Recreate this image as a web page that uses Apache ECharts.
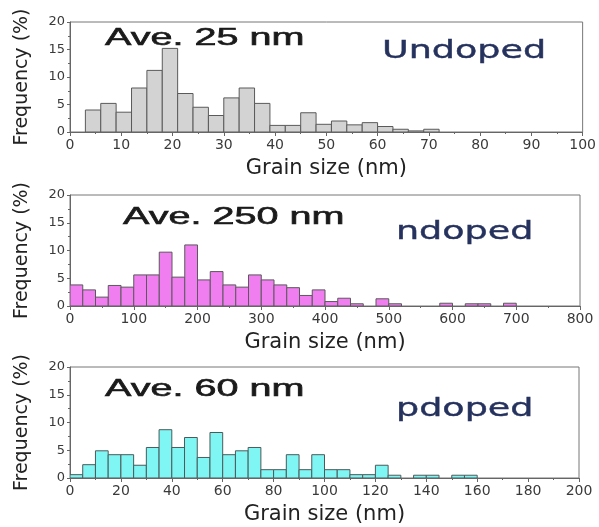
<!DOCTYPE html>
<html>
<head>
<meta charset="utf-8">
<script src="https://cdn.jsdelivr.net/npm/echarts@6/dist/echarts.min.js"></script>
<style>
html,body{margin:0;padding:0;background:#fff;}
#c{width:599px;height:527px;}
</style>
</head>
<body>
<div id="c"></div>
<script>
// ---- Data ----
// Panel 1: Undoped, bins of 3 nm
const undopedBinStart = [3,6,9,12,15,18,21,24,27,30,33,36,39,42,45,48,51,54,57,60,63,66,69];
const undopedBinWidth = 3;
const undopedFreq = [4.0,5.2,3.6,8.0,11.2,15.2,7.0,4.5,3.0,6.2,8.0,5.2,1.2,1.2,3.5,1.4,2.0,1.3,1.7,1.0,0.5,0.2,0.5];

// Panel 2: n-doped, bins of 20 nm
const ndopedBinStart = [0,20,40,60,80,100,120,140,160,180,200,220,240,260,280,300,320,340,360,380,400,420,440,480,500,580,620,640,680];
const ndopedBinWidth = 20;
const ndopedFreq = [3.8,2.9,1.6,3.7,3.4,5.6,5.6,9.7,5.2,11.0,4.7,6.2,3.8,3.4,5.6,4.7,3.8,3.3,1.9,2.9,0.8,1.4,0.4,1.3,0.4,0.5,0.4,0.4,0.5];

// Panel 3: p-doped, bins of 5 nm
const pdopedBinStart = [0,5,10,15,20,25,30,35,40,45,50,55,60,65,70,75,80,85,90,95,100,105,110,115,120,125,135,140,150,155];
const pdopedBinWidth = 5;
const pdopedFreq = [0.6,2.4,4.9,4.2,4.2,2.3,5.5,8.7,5.5,7.3,3.7,8.2,4.2,4.9,5.5,1.5,1.5,4.2,1.5,4.2,1.5,1.5,0.6,0.6,2.3,0.5,0.5,0.5,0.5,0.5];

// Axis settings
const xMax = [100, 800, 200];
const xInterval = [10, 100, 20];
const yTicks = [0, 5, 10, 15, 20];
const avgLabels = ['Ave. 25 nm', 'Ave. 250 nm', 'Ave. 60 nm'];
const typeLabels = ['Undoped', 'ndoped', 'pdoped'];
const xName = 'Grain size (nm)';
const yName = 'Frequency (%)';

// ---- Chart ----
const chart = echarts.init(document.getElementById('c'));
const grids = [
  {left:70, top:22, width:513, height:110},
  {left:70, top:195, width:510, height:111},
  {left:70, top:367, width:509, height:111}
];
const fills = ['#d3d3d3', '#f07ef0', '#80f6f4'];
const strokes = ['#5a5a5a', '#5a5a5a', '#4a5a5a'];
const sets = [
  [undopedBinStart, undopedBinWidth, undopedFreq],
  [ndopedBinStart, ndopedBinWidth, ndopedFreq],
  [pdopedBinStart, pdopedBinWidth, pdopedFreq]
];
const axisFont = 'DejaVu Sans';

const xAxes = [], yAxes = [], series = [];
for (let i = 0; i < 3; i++) {
  xAxes.push({
    type:'value', gridIndex:i, min:0, max:xMax[i], interval:xInterval[i],
    name:xName, nameLocation:'middle', nameGap:26,
    nameTextStyle:{fontFamily:axisFont, fontSize:21, color:'#222'},
    axisLine:{show:true, lineStyle:{color:'#666', width:1}},
    axisTick:{show:true, inside:false, length:4, lineStyle:{color:'#666'}},
    minorTick:{show:true, splitNumber:2, length:2, lineStyle:{color:'#666'}},
    axisLabel:{fontFamily:axisFont, fontSize:14, color:'#3a3a3a', margin:6},
    splitLine:{show:false}
  });
  yAxes.push({
    type:'value', gridIndex:i, min:yTicks[0], max:yTicks[yTicks.length-1], interval:yTicks[1]-yTicks[0],
    name:yName, nameLocation:'middle', nameGap:38, nameRotate:90,
    nameTextStyle:{fontFamily:axisFont, fontSize:19, color:'#222'},
    axisLine:{show:true, lineStyle:{color:'#666', width:1}},
    axisTick:{show:true, inside:false, length:3, lineStyle:{color:'#666'}},
    minorTick:{show:true, splitNumber:2, length:2, lineStyle:{color:'#666'}},
    axisLabel:{fontFamily:axisFont, fontSize:13, color:'#3a3a3a', margin:5},
    splitLine:{show:false}
  });
  const [starts, w, freq] = sets[i];
  const data = starts.map((s, k) => [s, s + w, freq[k]]);
  const fill = fills[i], stroke = strokes[i];
  series.push({
    type:'custom', xAxisIndex:i, yAxisIndex:i,
    encode:{x:[0,1], y:2},
    data:data,
    clip:true,
    renderItem:function(params, api){
      const p0 = api.coord([api.value(0), api.value(2)]);
      const p1 = api.coord([api.value(1), 0]);
      return {type:'rect',
        shape:{x:p0[0], y:p0[1], width:p1[0]-p0[0], height:p1[1]-p0[1]},
        style:{fill:fill, stroke:stroke, lineWidth:1}};
    }
  });
}

const graphics = [];
const avgPos = [[105, 39], [123, 218], [105, 390]];
const typePos = [[382, 52], [396, 233], [396, 410]];
for (let i = 0; i < 3; i++) {
  graphics.push({type:'text', x:avgPos[i][0], y:avgPos[i][1], scaleX:1.72, z:10,
    style:{text:avgLabels[i], font:'23px "Liberation Sans"', fill:'#1a1a1a', stroke:'#1a1a1a', lineWidth:0.6, verticalAlign:'middle', align:'left'}});
  graphics.push({type:'text', x:typePos[i][0], y:typePos[i][1], scaleX:1.52, z:10,
    style:{text:typeLabels[i], font:'24px "DejaVu Sans"', fill:'#26325e', stroke:'#26325e', lineWidth:0.4, verticalAlign:'middle', align:'left'}});
}

chart.setOption({
  backgroundColor:'#fff',
  animation:false,
  grid: grids.map(g => Object.assign({show:true, borderColor:'#777', borderWidth:1, backgroundColor:'transparent'}, g)),
  xAxis:xAxes, yAxis:yAxes, series:series, graphic:graphics
});
</script>
</body>
</html>
